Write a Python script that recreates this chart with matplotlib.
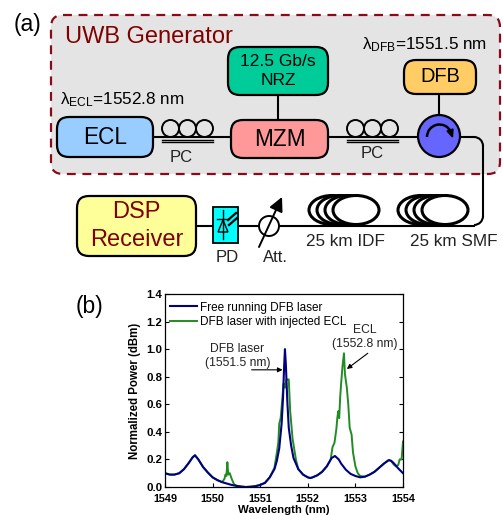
import numpy as np
import matplotlib
matplotlib.use('Agg')
import matplotlib.pyplot as plt
from matplotlib.patches import FancyBboxPatch, Circle, Ellipse, Polygon, FancyArrowPatch, Arc

plt.rcParams['font.family'] = ['Liberation Sans', 'DejaVu Sans']
plt.rcParams['mathtext.fontset'] = 'custom'
plt.rcParams['mathtext.rm'] = 'Liberation Sans'
plt.rcParams['mathtext.default'] = 'regular'

# spectrum
wl_free = [1549.0, 1549.1, 1549.2, 1549.3, 1549.4, 1549.5, 1549.58, 1549.63, 1549.7, 1549.8, 1549.9,
           1550.0, 1550.1, 1550.2, 1550.3, 1550.4, 1550.5, 1550.6, 1550.7, 1550.8, 1550.9,
           1551.0, 1551.1, 1551.2, 1551.3, 1551.35, 1551.4, 1551.45, 1551.48, 1551.5, 1551.52, 1551.54,
           1551.57, 1551.6, 1551.65, 1551.7, 1551.8, 1551.9, 1552.0, 1552.05, 1552.1, 1552.2, 1552.3,
           1552.4, 1552.5, 1552.57, 1552.65, 1552.7, 1552.8, 1552.9, 1553.0, 1553.1, 1553.2, 1553.3,
           1553.4, 1553.5, 1553.6, 1553.7, 1553.75, 1553.8, 1553.9, 1554.0]
power_free = [.10, .09, .09, .10, .13, .175, .215, .23, .20, .145, .105,
              .07, .05, .035, .025, .015, .008, .003, .0, .002, .006,
              .015, .03, .07, .13, .19, .28, .46, .65, .85, 1.0, .88,
              .62, .43, .30, .21, .13, .09, .07, .065, .07, .085, .11,
              .15, .21, .225, .20, .17, .125, .095, .08, .07, .075, .09,
              .11, .14, .17, .195, .19, .175, .135, .10]

wl_inj = [1549.0, 1549.1, 1549.2, 1549.3, 1549.4, 1549.5, 1549.58, 1549.63, 1549.7, 1549.8, 1549.9,
          1550.0, 1550.1, 1550.2, 1550.25, 1550.27, 1550.29, 1550.31, 1550.33, 1550.36, 1550.4, 1550.45,
          1550.5, 1550.6, 1550.7, 1550.8, 1550.9, 1551.0, 1551.1, 1551.2, 1551.3, 1551.35, 1551.38,
          1551.4, 1551.43, 1551.46, 1551.49, 1551.52, 1551.55, 1551.6, 1551.63, 1551.68, 1551.75,
          1551.8, 1551.9, 1552.0, 1552.05, 1552.1, 1552.2, 1552.3, 1552.4, 1552.48, 1552.52, 1552.56,
          1552.6, 1552.62, 1552.64, 1552.66, 1552.68, 1552.7, 1552.73, 1552.76, 1552.78, 1552.82,
          1552.85, 1552.88, 1552.92, 1552.95, 1553.0, 1553.05, 1553.1, 1553.2, 1553.3, 1553.4, 1553.5,
          1553.6, 1553.7, 1553.75, 1553.8, 1553.85, 1553.9, 1553.93, 1553.97, 1554.0]
power_inj = [.10, .09, .09, .10, .13, .175, .215, .23, .20, .145, .105,
             .07, .05, .035, .06, .09, .08, .18, .09, .10, .06, .02,
             .01, .003, .0, .002, .006, .015, .03, .07, .14, .25, .32,
             .46, .50, .62, .75, .72, .78, .78, .55, .35, .20,
             .13, .09, .07, .065, .07, .085, .11, .15, .20, .29, .32,
             .42, .50, .55, .50, .65, .75, .88, .97, .82, .72,
             .60, .43, .38, .25, .15, .10, .08, .075, .09, .11, .14,
             .17, .195, .19, .165, .15, .16, .20, .20, .33]

x_ticks = [1549, 1550, 1551, 1552, 1553, 1554]
y_ticks = [0.0, 0.2, 0.4, 0.6, 0.8, 1.0, 1.2, 1.4]

# name, x0, y0, x1, y1, fill, font size, text colour, line spacing
boxes = [('ECL', 57, 117, 153, 157, '#99ccff', 16.3, 'black', 1.15),
         ('MZM', 231, 120, 328, 158, '#ff9999', 16.3, 'black', 1.15),
         ('12.5 Gb/s\nNRZ', 228, 47, 328, 95, '#00cc99', 12.5, 'black', 1.35),
         ('DFB', 404, 60, 476, 94, '#ffcc66', 14.4, 'black', 1.15),
         ('DSP\nReceiver', 77, 196, 196, 256, '#ffff99', 17, '#800000', 1.4)]

W, H = 503, 515
fig = plt.figure(figsize=(W / 100, H / 100), dpi=100)

# diagram layer, in pixels
bg = fig.add_axes([0, 0, 1, 1])
bg.set_xlim(0, W)
bg.set_ylim(H, 0)
bg.axis('off')

bg.add_patch(FancyBboxPatch((61, 25), 429, 139, boxstyle='round,pad=10,rounding_size=12', fc='#e4e4e4',
                            ec='#8b0a1a', lw=1.6, ls=(0, (4, 3)), zorder=1))
bg.text(14, 24, '(a)', fontsize=16.5, va='center')
bg.text(65, 37, 'UWB Generator', fontsize=17, color='#800000', va='center')
bg.text(362, 45, r'$\lambda_{DFB}$=1551.5 nm', fontsize=12.3, va='center')
bg.text(60, 100, r'$\lambda_{ECL}$=1552.8 nm', fontsize=12.3, va='center')

# fibre
bg.plot([153, 231], [137, 137], 'k', lw=1.5, zorder=2)
bg.plot([328, 420], [137, 137], 'k', lw=1.5, zorder=2)
bg.plot([278, 278], [95, 120], 'k', lw=1.5, zorder=2)
bg.plot([439, 439], [94, 115], 'k', lw=1.5, zorder=2)
bg.plot([460, 474], [137, 137], 'k', lw=1.5, zorder=2)
bg.add_patch(Arc((474, 146), 18, 18, theta1=270, theta2=360, color='k', lw=1.5, zorder=2))
bg.plot([483, 483], [146, 216], 'k', lw=1.5, zorder=2)
bg.add_patch(Arc((474, 216), 18, 18, theta1=0, theta2=90, color='k', lw=1.5, zorder=2))
bg.plot([196, 474], [226, 226], 'k', lw=1.5, zorder=2)

for label, x0, y0, x1, y1, fc, fs, tc, ls in boxes:
    bg.add_patch(FancyBboxPatch((x0 + 12, y0 + 12), x1 - x0 - 24, y1 - y0 - 24,
                                boxstyle='round,pad=12,rounding_size=12', fc=fc, ec='k', lw=1.6, zorder=3))
    bg.text((x0 + x1) / 2, (y0 + y1) / 2, label, fontsize=fs, color=tc, ha='center', va='center',
            linespacing=ls, zorder=4)

# polarisation controllers
for x0, x_text, y_text in [(162, 181, 157), (347, 372, 154)]:
    for cx in [x0 + 8.5, x0 + 25.5, x0 + 42.5]:
        bg.add_patch(Circle((cx, 128.5), 8.5, fc='none', ec='k', lw=1.4, zorder=3))
    bg.plot([x0, x0 + 51], [140, 140], 'k', lw=1, zorder=3)
    bg.plot([x0, x0 + 51], [142, 142], 'k', lw=1, zorder=3)
    bg.text(x_text, y_text, 'PC', fontsize=12, color='#222222', ha='center', va='center')

# circulator
bg.add_patch(Circle((439, 136), 21, fc='#6666ff', ec='k', lw=1.6, zorder=3))
bg.add_patch(Arc((439.5, 137), 25, 25, theta1=180, theta2=335, color='k', lw=1.8, zorder=4))
bg.add_patch(Polygon([[447, 131], [453, 129], [452.5, 137]], fc='k', ec='k', zorder=4))

# photodiode
bg.add_patch(plt.Rectangle((213, 207), 25, 36, fc='#00ffff', ec='k', lw=1.3, zorder=3))
bg.plot([223, 223], [210, 239], 'k', lw=1, zorder=4)
bg.plot([217, 229], [219, 219], 'k', lw=1, zorder=4)
bg.add_patch(Polygon([[223, 220], [218, 232], [228, 232]], fc='none', ec='k', lw=1, zorder=4))
bg.plot([228, 236], [220, 213], 'k', lw=1.6, zorder=4)
bg.plot([229, 237], [225, 218], 'k', lw=1.6, zorder=4)
bg.text(227, 258, 'PD', fontsize=12, color='#222222', ha='center', va='center')

# attenuator
bg.add_patch(Circle((269, 226), 10, fc='white', ec='k', lw=1.4, zorder=3))
bg.add_patch(FancyArrowPatch((259, 247), (282, 197), arrowstyle='-|>', mutation_scale=21, color='k', lw=1.4,
                             shrinkA=0, shrinkB=0, zorder=4))
bg.text(275, 257, 'Att.', fontsize=12, color='#222222', ha='center', va='center')

# fibre spools
for x0, label, x_text in [(309, '25 km IDF', 345), (398, '25 km SMF', 454)]:
    for k in range(4):
        bg.add_patch(Ellipse((x0 + k * 8 + 23, 210), 46, 29, fc='white', ec='k', lw=2.2, zorder=3))
    bg.text(x_text, 242, label, fontsize=12.3, color='#222222', ha='center', va='center')
bg.text(76, 307, '(b)', fontsize=16.5, va='center')

# spectrum
ax = fig.add_axes([165 / W, (H - 487) / H, 238 / W, 193 / H])
ax.patch.set_alpha(0)
ax.plot(wl_inj, power_inj, color='#228b22', lw=1.4, label='DFB laser with injected ECL')
ax.plot(wl_free, power_free, color='#000080', lw=1.5, label='Free running DFB laser')
ax.set_xlim(1549, 1554)
ax.set_ylim(0, 1.4)
ax.set_xticks(x_ticks)
ax.set_yticks(y_ticks)
ax.set_yticklabels(['%.1f' % v for v in y_ticks])
ax.tick_params(direction='in', length=3, width=0.8, right=True)
ax.tick_params(axis='x', pad=5, labelsize=7.8)
ax.tick_params(axis='y', pad=2, labelsize=8.2)
for lab in ax.get_xticklabels() + ax.get_yticklabels():
    lab.set_fontweight('bold')
for s in ax.spines.values():
    s.set_linewidth(0.9)
ax.set_xlabel('Wavelength (nm)', fontsize=8.2, fontweight='bold', labelpad=0.5)
ax.set_ylabel('Normalized Power (dBm)', fontsize=8.3, fontweight='bold', labelpad=4)
h, l = ax.get_legend_handles_labels()
ax.legend(h[::-1], l[::-1], loc='upper left', bbox_to_anchor=(0.0, 0.985), frameon=False, fontsize=8.5,
          handlelength=2.3, handletextpad=0.3, labelspacing=0.2, borderaxespad=0.2, borderpad=0.2)
ax.text(1550.52, 0.95, 'DFB laser\n(1551.5 nm)', fontsize=8.7, ha='center', va='center', color='#222222')
ax.annotate('', xy=(1551.47, 0.85), xytext=(1550.82, 0.85),
            arrowprops=dict(arrowstyle='-|>', color='k', lw=0.8, mutation_scale=7, shrinkA=0, shrinkB=0))
ax.text(1553.2, 1.09, 'ECL\n(1552.8 nm)', fontsize=8.7, ha='center', va='center', color='#222222')
ax.annotate('', xy=(1552.82, 0.856), xytext=(1553.26, 0.97),
            arrowprops=dict(arrowstyle='-|>', color='k', lw=0.8, mutation_scale=7, shrinkA=0, shrinkB=0))

fig.savefig('out.png', dpi=100)
